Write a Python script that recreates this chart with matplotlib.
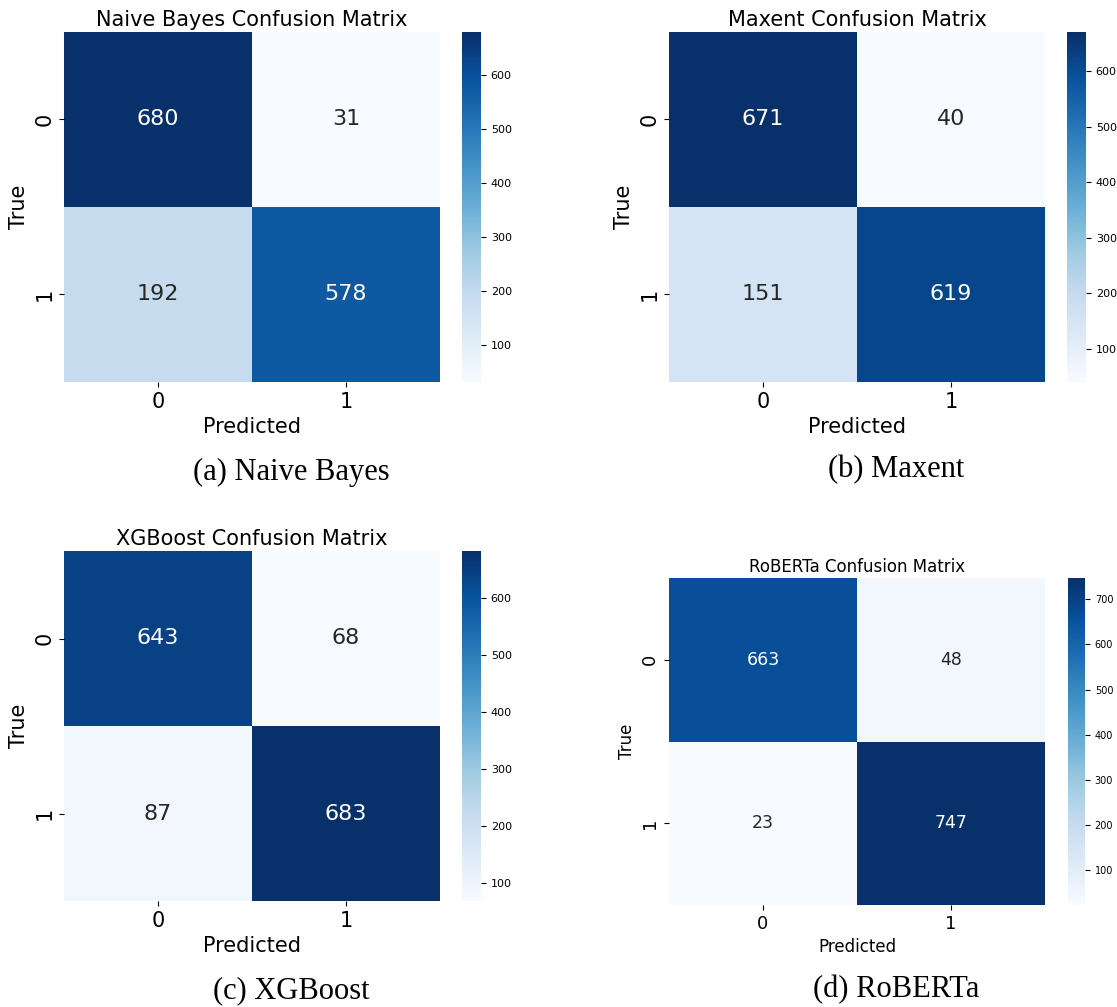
import numpy as np
import matplotlib
matplotlib.use("Agg")
import matplotlib.pyplot as plt
import seaborn as sns

# Data
labels = ["0", "1"]
nb_cm = [[680, 31], [192, 578]]
maxent_cm = [[671, 40], [151, 619]]
xgb_cm = [[643, 68], [87, 683]]
roberta_cm = [[663, 48], [23, 747]]
titles = ["Naive Bayes Confusion Matrix", "Maxent Confusion Matrix",
          "XGBoost Confusion Matrix", "RoBERTa Confusion Matrix"]
captions = ["(a) Naive Bayes", "(b) Maxent", "(c) XGBoost", "(d) RoBERTa"]

W, H = 1117, 1007
fig = plt.figure(figsize=(W / 100, H / 100), dpi=100)


def box(x0, y0, x1, y1):
    return [x0 / W, 1 - y1 / H, (x1 - x0) / W, (y1 - y0) / H]


big = dict(title=15, annot=16, tick=15, label=15, cb=8)
small = dict(title=12, annot=12.5, tick=13, label=12, cb=7)

panels = [
    (nb_cm, box(64, 32, 440, 382), box(462, 32, 481, 382), (291, 472), big),
    (maxent_cm, box(669, 32, 1045, 382), box(1067, 32, 1086, 382), (896, 470), big),
    (xgb_cm, box(64, 551, 440, 901), box(462, 551, 481, 901), (291, 991), big),
    (roberta_cm, box(669, 578, 1045, 905), box(1068, 578, 1085, 905), (896, 990), small),
]

for i, (cm, axpos, cbpos, cap, fs) in enumerate(panels):
    ax = fig.add_axes(axpos)
    cax = fig.add_axes(cbpos)
    sns.heatmap(np.array(cm), annot=True, fmt="d", cmap="Blues", ax=ax, cbar_ax=cax,
                xticklabels=labels, yticklabels=labels,
                annot_kws={"fontsize": fs["annot"]})
    ax.set_title(titles[i], fontsize=fs["title"], pad=4)
    ax.set_xlabel("Predicted", fontsize=fs["label"])
    ax.set_ylabel("True", fontsize=fs["label"])
    ax.tick_params(axis="both", labelsize=fs["tick"])
    for t in ax.get_yticklabels():
        t.set_rotation(90)
        t.set_va("center")
    cax.tick_params(labelsize=fs["cb"])
    fig.text(cap[0] / W, 1 - cap[1] / H, captions[i], family="Liberation Serif",
             fontsize=22, ha="center", va="center")

fig.savefig("out.png", dpi=100)
